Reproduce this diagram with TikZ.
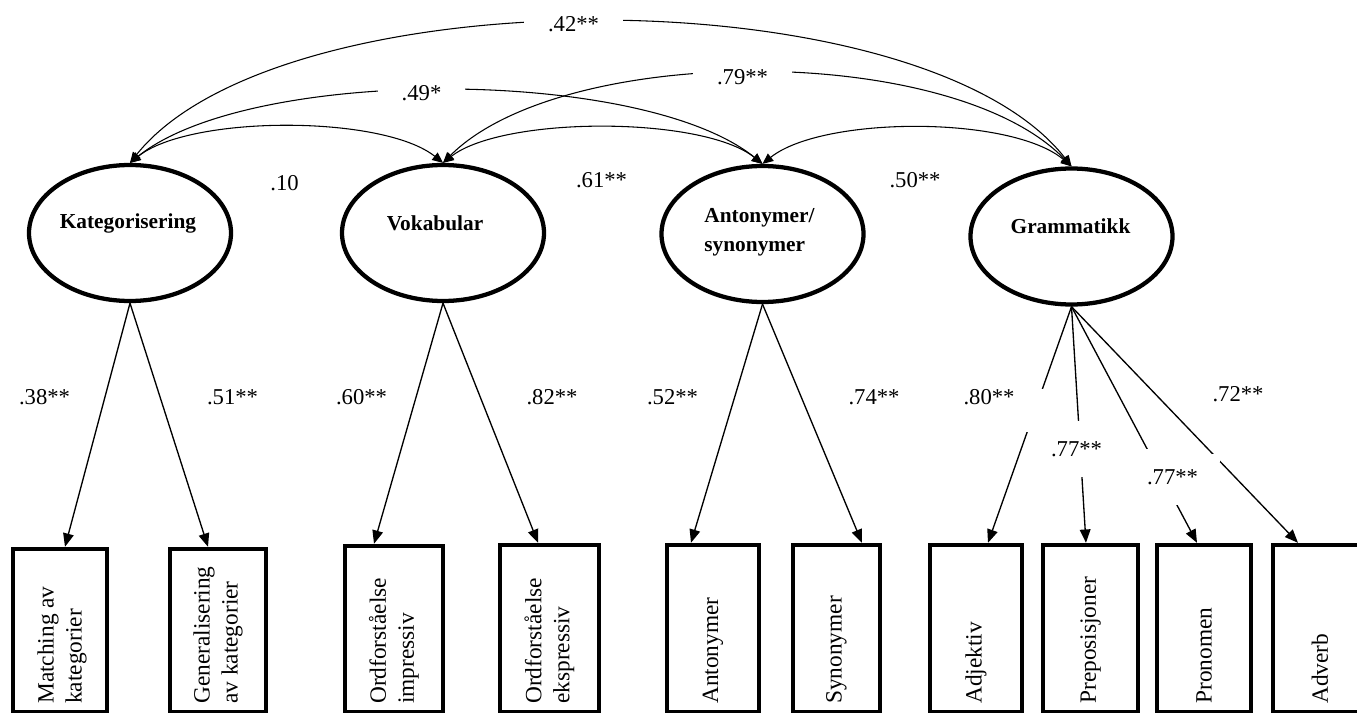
\documentclass[tikz,border=0pt]{standalone}
\usepackage{fontspec}
\setmainfont{Liberation Serif}
\usetikzlibrary{arrows.meta,shapes.geometric}
\begin{document}
\begin{tikzpicture}[x=0.75pt,y=-0.75pt,
  latent/.style={ellipse,draw,line width=3.2pt,minimum width=151.5pt,minimum height=102pt,inner sep=0pt},
  obs/.style n args={2}{rectangle,draw,line width=2.8pt,inner sep=0pt,minimum width=#1,minimum height=#2},
  obstxt/.style={rotate=90,anchor=west,align=left,font=\fontsize{17.5pt}{21pt}\selectfont,inner sep=0pt},
  lattxt/.style={font=\bfseries\fontsize{16pt}{22pt}\selectfont,align=left,inner sep=0pt},
  coef/.style={font=\fontsize{17pt}{20pt}\selectfont,inner sep=1pt},
  gapcoef/.style={coef,fill=white,inner xsep=18pt,inner ysep=4pt},
  tallcoef/.style={coef,fill=white,minimum height=42pt,inner xsep=2pt},
  load/.style={-{Triangle[length=10pt,width=8pt]},line width=1pt},
  cov/.style={{Triangle[length=8pt,width=7pt]}-{Triangle[length=8pt,width=7pt]},line width=0.8pt},
  blank/.style={fill=white,inner sep=0pt}
]
\useasboundingbox (0,0) rectangle (1357,713);
\clip (0,0) rectangle (1357,713);

% latent variables
\node[latent] (kat) at (130,233) {};
\node[latent] (vok) at (443,233) {};
\node[latent] (ant) at (762.5,234) {};
\node[latent] (gra) at (1071.5,236.5) {};
\node[lattxt] (katt) at (128,223) {Kategorisering};
\node[lattxt] (vokt) at (435,223) {Vokabular};
\node[lattxt] (antt) at (759.5,232.5) {Antonymer/\\synonymer};
\node[lattxt] (grat) at (1070.5,226) {Grammatikk};

% observed variables
\node[obs={71pt}{122.75pt}] (b1) at (60,630.5) {};
\node[obs={72.5pt}{122.75pt}] (b2) at (218,630.5) {};
\node[obs={74pt}{125pt}] (b3) at (394,629) {};
\node[obs={74.75pt}{125.75pt}] (b4) at (549.5,628.5) {};
\node[obs={69.5pt}{125.75pt}] (b5) at (713,628.5) {};
\node[obs={65.75pt}{125.75pt}] (b6) at (836.5,628.5) {};
\node[obs={69.5pt}{125.75pt}] (b7) at (976,628.5) {};
\node[obs={71.75pt}{125.75pt}] (b8) at (1090.5,628.5) {};
\node[obs={71pt}{125.75pt}] (b9) at (1204,628.5) {};
\node[obs={78.5pt}{125.75pt}] (b10) at (1325,628.5) {};

\node[obstxt] (b1t) at (62,704) {Matching av\\kategorier};
\node[obstxt] (b2t) at (218,704) {Generalisering\\av kategorier};
\node[obstxt] (b3t) at (394,704) {Ordforståelse\\impressiv};
\node[obstxt] (b4t) at (549.5,704) {Ordforståelse\\ekspressiv};
\node[obstxt] (b5t) at (713,704) {Antonymer};
\node[obstxt] (b6t) at (836.5,704) {Synonymer};
\node[obstxt] (b7t) at (976,704) {Adjektiv};
\node[obstxt] (b8t) at (1090.5,704) {Preposisjoner};
\node[obstxt] (b9t) at (1204,704) {Pronomen};
\node[obstxt] (b10t) at (1320,704) {Adverb};

% loadings
\draw[load] (kat.south) -- ([xshift=3.75pt]b1.north);
\draw[load] (kat.south) -- ([xshift=-7.5pt]b2.north);
\draw[load] (vok.south) -- ([xshift=-15pt]b3.north);
\draw[load] (vok.south) -- ([xshift=-8.6pt]b4.north);
\draw[load] (ant.south) -- ([xshift=-16.5pt]b5.north);
\draw[load] (ant.south) -- ([xshift=19.1pt]b6.north);
\draw[load] (gra.south) -- node[blank,pos=0.44,minimum width=15pt,minimum height=32pt] (gap1) {} ([xshift=9pt]b7.north);
\draw[load] (gra.south) -- ([xshift=-3.4pt]b8.north);
\draw[load] (gra.south) -- ([xshift=-5.25pt]b9.north);
\draw[load] (gra.south) -- node[blank,pos=0.64,minimum size=6pt] (gap2) {} ([xshift=-20.25pt]b10.north);

% covariances
\draw[cov] (kat.north) .. controls +(60,-48) and +(-60,-48) .. (vok.north);
\draw[cov] (vok.north) .. controls +(60,-47) and +(-60,-48) .. (ant.north);
\draw[cov] (ant.north) .. controls +(60,-48) and +(-60,-51) .. (gra.north);
\draw[cov] (kat.north) .. controls +(120,-97) and +(-120,-97) .. (ant.north);
\draw[cov] (vok.north) .. controls +(120,-120) and +(-120,-124) .. (gra.north);
\draw[cov] (kat.north) .. controls +(150,-188) and +(-150,-192) .. (gra.north);

% coefficients
\node[coef] (c10) at (284.5,183) {.10};
\node[coef] (c61) at (601.5,180) {.61**};
\node[coef] (c50) at (915,180) {.50**};
\node[gapcoef] (c49) at (421.5,93) {.49*};
\node[gapcoef] (c79) at (742.5,77) {.79**};
\node[gapcoef] (c42) at (573.5,24) {.42**};

\node[coef] (l38) at (44.5,397) {.38**};
\node[coef] (l51) at (232.5,397) {.51**};
\node[coef] (l60) at (361.5,397) {.60**};
\node[coef] (l82) at (552,397) {.82**};
\node[coef] (l52) at (672.5,397) {.52**};
\node[coef] (l74) at (874,397) {.74**};
\node[coef] (l80) at (989,397) {.80**};
\node[tallcoef] (l77a) at (1076.5,449) {.77**};
\node[tallcoef] (l77b) at (1172.5,477) {.77**};
\node[coef] (l72) at (1238,394) {.72**};
\end{tikzpicture}
\end{document}
